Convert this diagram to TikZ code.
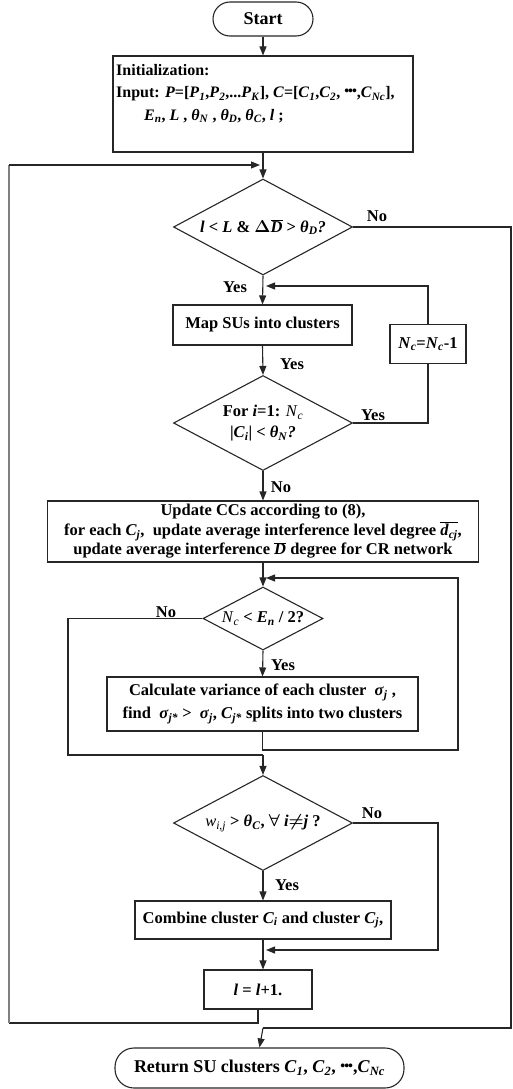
\documentclass[tikz,border=0pt]{standalone}
\usepackage{fontspec}
\setmainfont{Liberation Serif}
\usetikzlibrary{shapes.geometric}
\usetikzlibrary{arrows.meta}

\newcommand{\vi}[1]{\textit{#1}}
\newcommand{\sbi}[1]{\textsubscript{\textit{#1}}}
\newcommand{\tdots}{\raisebox{0.25ex}{\fontsize{14}{14}\selectfont •\kern-1pt•\kern-1pt•}}

\tikzset{
  flow/.style={line width=1.1pt, draw=black!85},
  flowarr/.style={flow, -{Triangle[length=9pt,width=7pt]}},
  procbox/.style={draw=black!85, line width=1.1pt, rectangle, inner sep=2pt,
    align=center, font=\fontsize{16.5}{21}\selectfont\bfseries\boldmath},
  termbox/.style={procbox, font=\fontsize{18}{21}\selectfont\bfseries\boldmath},
  testbox/.style={draw=black!85, line width=1.1pt, diamond, inner sep=0pt,
    align=center, font=\fontsize{16.5}{21}\selectfont\bfseries\boldmath},
  yesno/.style={font=\fontsize{16.5}{19}\selectfont\bfseries, inner sep=1pt}
}

\begin{document}
\begin{tikzpicture}[x=1pt,y=-1pt]
  \useasboundingbox (0,0) rectangle (512,1089);

  % boxes
  \node (start) [termbox, rounded corners=17pt, minimum width=100pt, minimum height=34pt] at (263,19) {Start};
  \node (init) [procbox, minimum width=300pt, minimum height=96pt] at (263,104) {};
  \node (inittext) [anchor=north west, inner sep=0pt, align=left,
    font=\fontsize{16}{22.5}\selectfont\bfseries\boldmath] at (116,64)
    {Initialization:\\
     Input: \vi{P}=[\vi{P}\sbi{1},\vi{P}\sbi{2},...\vi{P}\sbi{K}], \vi{C}=[\vi{C}\sbi{1},\vi{C}\sbi{2}, \tdots,\vi{C}\sbi{Nc}],\\
     \hspace*{28pt}\vi{E}\sbi{n}, \vi{L} , \vi{θ}\sbi{N} , \vi{θ}\sbi{D}, \vi{θ}\sbi{C}, \vi{l} ;};
  \node (d1) [testbox, aspect=1.86, minimum width=179pt, minimum height=96pt] at (263,227)
    {\vi{l} < \vi{L} \& $\Delta\overline{\mbox{\vi{D}}}$ > \vi{θ}\sbi{D}\vi{?}};
  \node (map) [procbox, minimum width=179pt, minimum height=40pt] at (262.5,325) {Map SUs into clusters};
  \node (nc) [procbox, minimum width=76pt, minimum height=39pt] at (428,344) {\vi{N}\sbi{c}=\vi{N}\sbi{c}-1};
  \node (d2) [testbox, aspect=1.88, minimum width=179pt, minimum height=95pt] at (263,423)
    {For \vi{i}=1: \textmd{\vi{N}\sbi{c}}\\ |\vi{C}\sbi{i}| < \vi{θ}\sbi{N}\vi{?}};
  \node (upd) [procbox, minimum width=431pt, minimum height=61pt,
    font=\fontsize{16.5}{19.5}\selectfont\bfseries\boldmath] at (263,531.5)
    {Update CCs according to (8),\\
     for each \vi{C}\sbi{j},\ \ update average interference level degree $\overline{\mbox{\vi{d}\sbi{cj}}}$,\\
     update average interference $\overline{\mbox{\vi{D}}}$ degree for CR network};
  \node (d3) [testbox, aspect=1.9, minimum width=120pt, minimum height=63pt] at (263,618.5)
    {\textmd{\vi{N}\sbi{c}} < \vi{E}\sbi{n} / 2?};
  \node (calc) [procbox, minimum width=311pt, minimum height=54pt,
    font=\fontsize{16.5}{23}\selectfont\bfseries\boldmath] at (262.5,704)
    {Calculate variance of each cluster\ \ \vi{σ}\sbi{j} ,\\
     find\ \ \vi{σ}\sbi{j*} >\ \ \vi{σ}\sbi{j}, \vi{C}\sbi{j*} splits into two clusters};
  \node (d4) [testbox, aspect=1.88, minimum width=179pt, minimum height=95pt] at (263,823)
    {\textmd{\vi{w}\sbi{i,j}} >\ \vi{θ}\sbi{C}, $\forall$ \vi{i}$\neq$\vi{j} ?};
  \node (comb) [procbox, minimum width=256pt, minimum height=38pt] at (263,920)
    {Combine cluster \vi{C}\sbi{i} and cluster \vi{C}\sbi{j},};
  \node (inc) [procbox, minimum width=108pt, minimum height=39pt] at (258,989.5) {\vi{l} = \vi{l}+1.};
  \node (ret) [termbox, rounded corners=19pt, minimum width=289pt, minimum height=40pt] at (259.5,1068)
    {Return SU clusters \vi{C}\sbi{1}, \vi{C}\sbi{2}, \tdots,\vi{C}\sbi{Nc}};

  % joints of the loops
  \coordinate (loopin) at (263,165);
  \coordinate (looptl) at (9,165);
  \coordinate (loopbl) at (9,1023);
  \coordinate (ncin) at (263,286);
  \coordinate (splitin) at (263,578);
  \coordinate (mergein) at (263,755);
  \coordinate (combout) at (263,950);
  \coordinate (retin) at (263,1028);

  % main line
  \draw[flowarr] (start) -- (init);
  \draw[flowarr] (init.south) -- (d1.north);
  \draw[flowarr] (d1.south) -- (map.north);
  \draw[flowarr] (map.south) -- (d2.north);
  \draw[flowarr] (d2.south) -- (upd.north);
  \draw[flowarr] (upd.south) -- (d3.north);
  \draw[flowarr] (d3.south) -- (calc.north);
  \draw[flowarr] (mergein) -- (d4.north);
  \draw[flowarr] (d4.south) -- (comb.north);
  \draw[flowarr] (comb.south) -- (comb.south |- inc.north);
  \draw[flowarr] (retin) -- (ret.north);

  % loops
  \draw[flow] (inc.south) |- (loopbl);
  \draw[flow, draw=black!50] (loopbl) -- (looptl);
  \draw[flowarr, shorten >=3pt] (looptl) -- (loopin);
  \draw[flow] (d1.east) -- (511,227) -- (511,1028) -- (retin);
  \draw[flow] (d2.east) -| (nc.south);
  \draw[flowarr, shorten >=3pt] (nc.north) |- (ncin);
  \draw[flow] (d3.west) -| (68,755) -- (mergein);
  \draw[flowarr, shorten >=3pt] (calc.south) |- (458,750) |- (splitin);
  \draw[flowarr, shorten >=3pt] (d4.east) -| (438,950) -- (combout);

  % labels
  \node (no1) [yesno] at (377,216) {No};
  \node (yes1) [yesno] at (235,287) {Yes};
  \node (yes2) [yesno] at (292,364) {Yes};
  \node (yes3) [yesno] at (373,415) {Yes};
  \node (no2) [yesno] at (281,487) {No};
  \node (no3) [yesno] at (166,612) {No};
  \node (yes4) [yesno] at (283,665) {Yes};
  \node (no4) [yesno] at (372,813) {No};
  \node (yes5) [yesno] at (287,885) {Yes};
\end{tikzpicture}
\end{document}
